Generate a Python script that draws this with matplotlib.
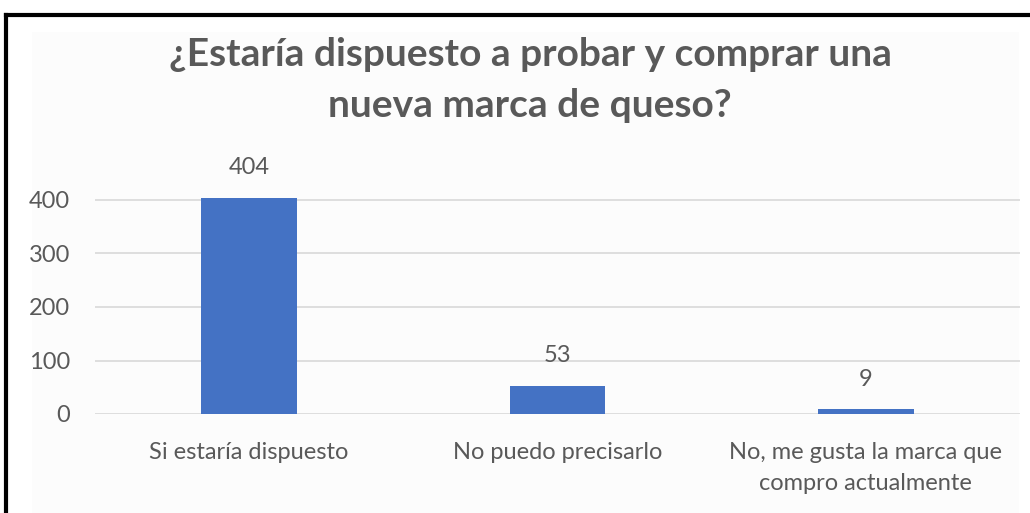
import matplotlib.pyplot as plt
from matplotlib.patches import Rectangle
from matplotlib.lines import Line2D

# Respuestas de la encuesta
categorias = ["Si estaría dispuesto", "No puedo precisarlo",
              "No, me gusta la marca que\ncompro actualmente"]
respuestas = [404, 53, 9]
ticks_y = [0, 100, 200, 300, 400]

titulo = "¿Estaría dispuesto a probar y comprar una\nnueva marca de queso?"

plt.rcParams['font.family'] = ['Lato', 'DejaVu Sans']
gris = '#595959'

fig = plt.figure(figsize=(10.3, 5.13), dpi=100)
fig.patch.set_facecolor('white')

# fondo del grafico y marco
fig.add_artist(Rectangle((32 / 1030, 0), (1019 - 32) / 1030, 1 - 32 / 513,
                         transform=fig.transFigure, facecolor='#fcfcfc',
                         edgecolor='none', zorder=0))
fig.add_artist(Line2D([6 / 1030, 1], [1 - 15 / 513, 1 - 15 / 513],
                      transform=fig.transFigure, color='black', lw=3))
fig.add_artist(Line2D([6 / 1030, 6 / 1030], [0, 1 - 15 / 513],
                      transform=fig.transFigure, color='black', lw=3))

ax = fig.add_axes([95 / 1030, 1 - 414 / 513, (1020 - 95) / 1030, (414 - 189.3) / 513])
ax.set_facecolor('none')

x = range(len(categorias))
barras = ax.bar(x, respuestas, width=0.31, color='#4472C4', zorder=3)
ax.bar_label(barras, labels=[str(v) for v in respuestas], padding=14,
             fontsize=17, color=gris)

ax.set_xlim(-0.5, len(categorias) - 0.5)
ax.set_ylim(0, 420)
ax.set_yticks(ticks_y)
ax.set_xticks(list(x))
ax.set_xticklabels(categorias, fontsize=17, color=gris, linespacing=1.6)
ax.tick_params(axis='y', labelsize=17, labelcolor=gris, length=0, pad=18)
ax.tick_params(axis='x', length=0, pad=20)
ax.grid(axis='y', color='#d9d9d9', lw=1.2, zorder=0)
for s in ax.spines.values():
    s.set_visible(False)

fig.text(530 / 1030, 1 - 80 / 513, titulo, ha='center', va='center', fontsize=28,
         fontweight='bold', color=gris, linespacing=1.55)

plt.savefig('out.png', dpi=100)
